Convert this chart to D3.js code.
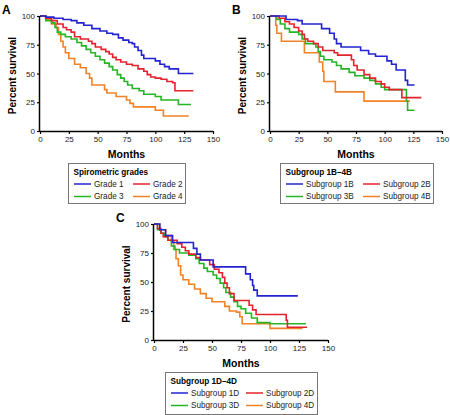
<!DOCTYPE html>
<html>
<head>
<meta charset="utf-8">
<script src="https://cdn.jsdelivr.net/npm/d3@7"></script>
<style>
  body { margin: 0; background: #fff; }
  svg { font-family: "Liberation Sans", Arial, sans-serif; }
</style>
</head>
<body>
<svg width="450" height="415"></svg>
<script>
// Data: [month, percent survival] at each step

const xTicks = [0, 25, 50, 75, 100, 125, 150]
const yTicks = [0, 25, 50, 75, 100]

const gradeNames = ['Grade 1', 'Grade 2', 'Grade 3', 'Grade 4']
const grade1 = [[0,100],[5,99],[12,98],[20,97],[27,96],[32,94],[38,92],[45,89],[52,87],[58,85],[63,84],[68,81],[72,79],[77,77],[80,76],[82,73],[85,70],[88,66],[90,63],[100,61],[104,58],[108,56],[112,54],[120,50],[133,50]]
const grade2 = [[0,100],[5,98],[10,96],[15,93],[20,90],[23,88],[27,86],[30,82],[35,80],[42,78],[45,76],[48,73],[53,71],[57,69],[60,67],[63,64],[66,62],[70,60],[75,58],[80,57],[85,54],[90,52],[93,49],[96,47],[100,46],[105,45],[110,43],[115,42],[117,35],[133,35]]
const grade3 = [[0,100],[5,96],[10,94],[13,90],[15,86],[18,84],[22,82],[27,80],[32,77],[36,74],[40,71],[44,68],[48,65],[52,62],[56,59],[60,56],[63,53],[67,49],[70,46],[73,43],[76,40],[80,37],[86,35],[90,32],[100,30],[105,27],[120,23],[131,23]]
const grade4 = [[0,100],[5,97],[10,93],[14,90],[16,84],[18,78],[20,73],[22,68],[25,63],[30,58],[35,55],[40,50],[43,46],[45,40],[56,36],[58,33],[66,30],[75,27],[78,24],[81,21],[100,18],[107,13],[129,13]]

const subBNames = ['Subgroup 1B', 'Subgroup 2B', 'Subgroup 3B', 'Subgroup 4B']
const sub1B = [[0,100],[14,97],[24,96],[28,93],[45,89],[52,85],[56,80],[58,76],[62,73],[79,70],[86,67],[92,65],[102,61],[106,58],[110,53],[118,44],[120,40],[126,40]]
const sub2B = [[0,100],[8,98],[13,95],[17,93],[21,90],[25,87],[28,84],[30,80],[33,78],[38,76],[42,73],[46,70],[56,68],[59,66],[71,62],[73,57],[76,53],[82,49],[87,46],[92,43],[97,41],[100,38],[104,36],[115,29],[132,29]]
const sub3B = [[0,100],[6,97],[9,93],[13,89],[17,86],[25,84],[28,80],[31,76],[40,73],[42,69],[44,65],[47,62],[54,60],[58,57],[62,54],[69,51],[74,48],[82,46],[87,44],[92,41],[97,38],[100,36],[119,26],[120,18],[126,18]]
const sub4B = [[0,100],[5,92],[6,85],[10,78],[30,68],[43,60],[46,52],[47,43],[57,34],[82,26],[122,26]]

const subDNames = ['Subgroup 1D', 'Subgroup 2D', 'Subgroup 3D', 'Subgroup 4D']
const sub1D = [[0,100],[5,95],[10,90],[16,84],[34,79],[37,74],[40,69],[51,63],[79,57],[83,52],[85,47],[86,43],[89,38],[124,38]]
const sub2D = [[0,100],[3,96],[6,92],[8,89],[12,86],[20,83],[24,80],[27,77],[30,74],[36,71],[40,69],[48,65],[52,61],[56,58],[59,54],[61,49],[63,45],[65,40],[69,34],[82,30],[85,26],[88,22],[114,17],[115,11],[132,11]]
const sub3D = [[0,100],[3,95],[6,92],[9,89],[12,86],[15,81],[18,78],[22,75],[30,73],[36,70],[39,66],[43,62],[46,59],[51,56],[54,53],[57,49],[60,45],[62,41],[66,37],[69,33],[72,29],[75,27],[79,23],[84,19],[89,15],[100,14],[131,14]]
const sub4D = [[0,100],[5,95],[10,90],[15,85],[17,78],[19,70],[21,64],[23,56],[25,52],[30,48],[35,44],[40,40],[45,36],[50,33],[61,29],[65,25],[71,24],[74,20],[76,14],[100,10],[128,10]]

const colors = ['#2323d2', '#e4222c', '#26b526', '#f08228']

const panels = [
  {
    letter: 'A', left: 40, top: 16, width: 173, height: 115,
    series: [grade1, grade2, grade3, grade4], names: gradeNames,
    legendTitle: 'Spirometric grades',
    legend: {x: 68, y: 163, w: 117, h: 40, col2: 59},
  },
  {
    letter: 'B', left: 270, top: 16, width: 172, height: 115,
    series: [sub1B, sub2B, sub3B, sub4B], names: subBNames,
    legendTitle: 'Subgroup 1B–4B',
    legend: {x: 280, y: 163, w: 153, h: 40, col2: 77},
  },
  {
    letter: 'C', left: 154, top: 224, width: 174, height: 116,
    series: [sub1D, sub2D, sub3D, sub4D], names: subDNames,
    legendTitle: 'Subgroup 1D–4D',
    legend: {x: 165, y: 372, w: 152, h: 42, col2: 75},
  },
]

const svg = d3.select('svg')

function drawPanel(p) {
  const g = svg.append('g')
      .attr('transform', `translate(${p.left},${p.top})`)

  const x = d3.scaleLinear().domain([0, 150]).range([0, p.width])
  const y = d3.scaleLinear().domain([0, 100]).range([p.height, 0])

  const line = d3.line()
      .x(d => x(d[0]))
      .y(d => y(d[1]))
      .curve(d3.curveStepAfter)

  // curves, drawn in reverse so blue sits on top
  g.selectAll('path.curve')
    .data(p.series.map((s, i) => ({s, i})).reverse())
    .join('path')
      .attr('class', 'curve')
      .attr('d', d => line(d.s))
      .attr('fill', 'none')
      .attr('stroke', d => colors[d.i])
      .attr('stroke-width', 1.6)

  const xAxis = g.append('g')
      .attr('transform', `translate(0,${p.height})`)
      .call(d3.axisBottom(x).tickValues(xTicks).tickSize(3).tickPadding(2))
  const yAxis = g.append('g')
      .call(d3.axisLeft(y).tickValues(yTicks).tickSize(3).tickPadding(2))

  for (const a of [xAxis, yAxis]) {
    a.select('.domain').attr('stroke', '#000').attr('stroke-width', 1.5)
    a.selectAll('.tick line').attr('stroke', '#000').attr('stroke-width', 1.2)
    a.selectAll('.tick text')
        .attr('fill', '#222')
        .style('font-size', '8px')
        .style('font-family', '"Liberation Sans", Arial, sans-serif')
  }
  xAxis.select('.domain').attr('d', `M0,0.5H${p.width}`)
  yAxis.select('.domain').attr('d', `M-0.5,${p.height}V0`)

  g.append('text')
      .attr('x', p.width / 2)
      .attr('y', p.height + 27)
      .attr('text-anchor', 'middle')
      .style('font-size', '10.5px')
      .style('font-weight', 'bold')
      .text('Months')

  g.append('text')
      .attr('transform', `translate(-24,${p.height / 2 + 2}) rotate(-90)`)
      .attr('text-anchor', 'middle')
      .style('font-size', '10px')
      .style('font-weight', 'bold')
      .text('Percent survival')

  g.append('text')
      .attr('x', -38)
      .attr('y', -2)
      .style('font-size', '12px')
      .style('font-weight', 'bold')
      .text(p.letter)

  // legend
  const L = p.legend
  const lg = svg.append('g').attr('transform', `translate(${L.x},${L.y})`)
  lg.append('rect')
      .attr('x', 0.5).attr('y', 0.5)
      .attr('width', L.w).attr('height', L.h)
      .attr('fill', '#fff')
      .attr('stroke', '#777')
      .attr('stroke-width', 1)
  lg.append('text')
      .attr('x', 5.5)
      .attr('y', 11.5)
      .style('font-size', '8.2px')
      .style('font-weight', 'bold')
      .text(p.legendTitle)

  const item = lg.selectAll('g.item')
    .data(p.names)
    .join('g')
      .attr('class', 'item')
      .attr('transform', (d, i) => `translate(${6 + (i % 2) * L.col2},${i < 2 ? 21 : 33.5})`)
  item.append('line')
      .attr('x1', 0).attr('x2', 17)
      .attr('stroke', (d, i) => colors[i])
      .attr('stroke-width', 1.5)
  item.append('text')
      .attr('x', 20)
      .attr('dy', '0.35em')
      .attr('fill', '#222')
      .style('font-size', '8.2px')
      .text(d => d)
}

panels.forEach(drawPanel)
</script>
</body>
</html>
